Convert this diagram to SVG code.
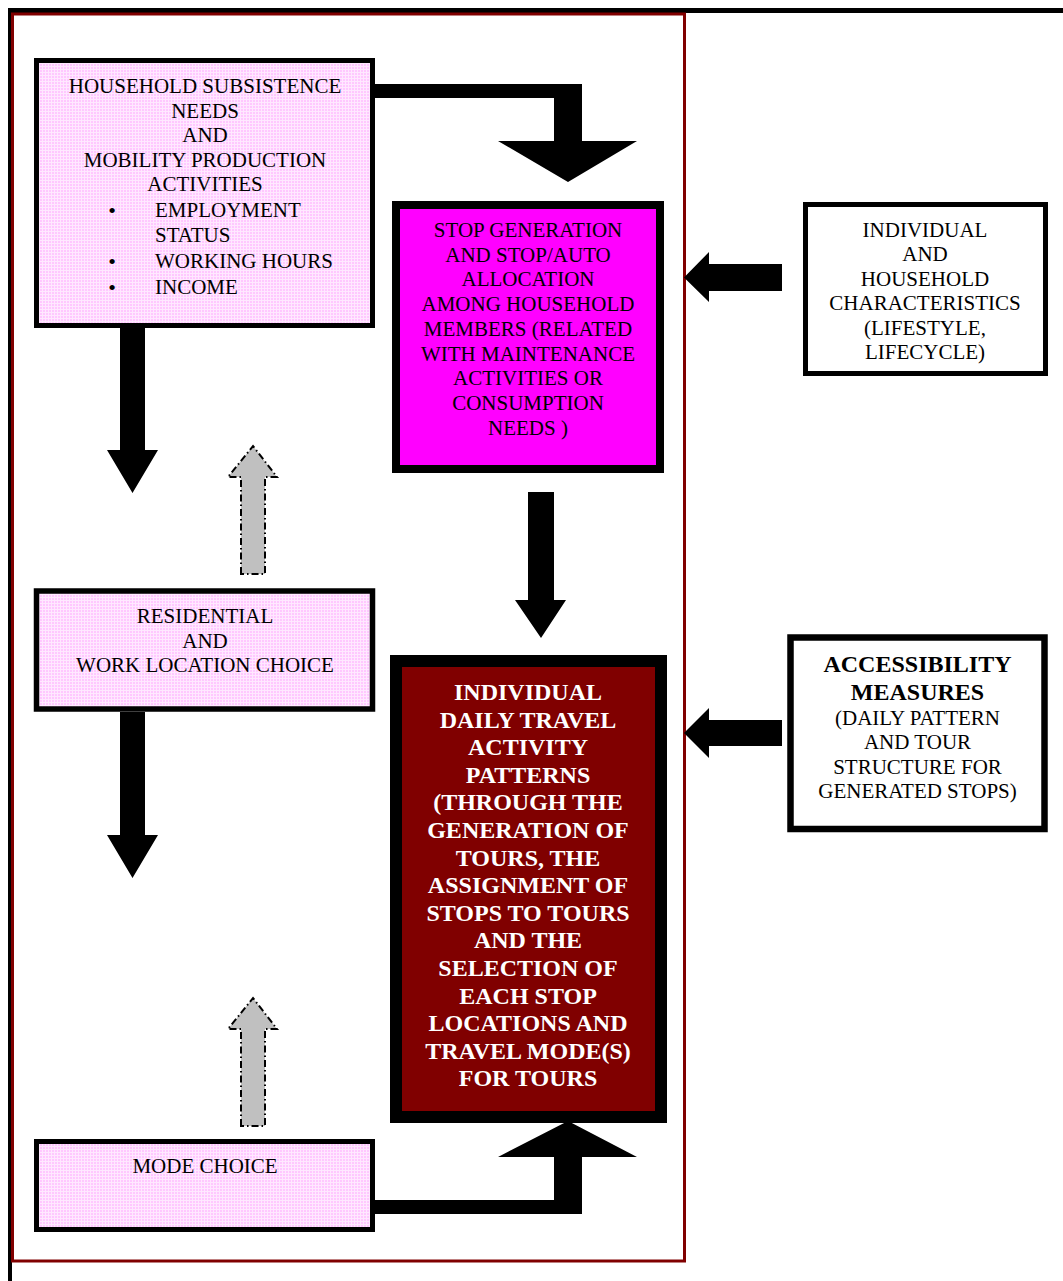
<svg xmlns="http://www.w3.org/2000/svg" width="1063" height="1281" viewBox="0 0 1063 1281">
  <defs>
    <!-- fine light grid used as the pink box fill -->
    <pattern id="pinkGrid" width="3" height="3" patternUnits="userSpaceOnUse">
      <rect width="3" height="3" fill="#FFC8FF"/>
      <path d="M0,0.5 H3 M0.5,0 V3" stroke="#FFE8FF" stroke-width="1"/>
    </pattern>
  </defs>
  <style>
    .t { font-family: "Liberation Serif", "Times New Roman", serif; font-size: 21px; fill: #000; text-anchor: middle; }
    .tl { text-anchor: start; }
    .bul { font-size: 22px; }
    .b { font-weight: bold; font-size: 24px; }
    .w { fill: #FFFFFF; }
    .pink { fill: url(#pinkGrid); stroke: #000; }
    .plain { fill: #FFFFFF; stroke: #000; }
    .arrow { fill: #000; stroke: none; }
    .ghost { fill: #C0C0C0; stroke: #000; stroke-width: 2; stroke-dasharray: 7 3 1.5 3; }
  </style>

  <rect x="0" y="0" width="1063" height="1281" fill="#FFFFFF"/>

  <!-- page frame -->
  <g id="frame">
    <rect x="8" y="8" width="1055" height="5" fill="#000"/>
    <rect x="8" y="8" width="4" height="1273" fill="#000"/>
    <rect x="12.5" y="14" width="672" height="1247" fill="none" stroke="#800000" stroke-width="3"/>
  </g>

  <!-- connectors -->
  <g id="connectors">
    <path class="arrow" d="M375,84 H582 V141 H637 L568,182 L498,141 H554 V98 H375 Z"/>
    <path class="arrow" d="M120,328 H145 V450 H158 L132.5,493 L107,450 H120 Z"/>
    <path class="arrow" d="M120,712 H145 V835 H158 L132.5,878 L107,835 H120 Z"/>
    <path class="arrow" d="M528,492 H554 V600 H566 L541,638 L515,600 H528 Z"/>
    <path class="arrow" d="M782,264 V291 H709 V302 L684,277.5 L709,252 V264 Z"/>
    <path class="arrow" d="M782,720 V746 H709 V758 L684,733 L709,708 V720 Z"/>
    <path class="arrow" d="M375,1200 H554 V1157 H498 L568,1121 L637,1157 H582 V1214 H375 Z"/>
    <path class="ghost" d="M241,574 V477 H228 L253,446 L277,477 H265 V574 Z"/>
    <path class="ghost" d="M241,1126 V1029 H228 L253,998 L277,1029 H265 V1126 Z"/>
  </g>

  <!-- household subsistence needs -->
  <g id="household-needs">
    <rect class="pink" x="36.5" y="60.5" width="336" height="265" stroke-width="5"/>
    <text class="t" x="205" y="93">HOUSEHOLD SUBSISTENCE</text>
    <text class="t" x="205" y="117.5">NEEDS</text>
    <text class="t" x="205" y="142">AND</text>
    <text class="t" x="205" y="166.5">MOBILITY PRODUCTION</text>
    <text class="t" x="205" y="191">ACTIVITIES</text>
    <text class="t bul" x="112" y="217.5">•</text>
    <text class="t tl" x="155" y="217">EMPLOYMENT</text>
    <text class="t tl" x="155" y="242">STATUS</text>
    <text class="t bul" x="112" y="268.5">•</text>
    <text class="t tl" x="155" y="268">WORKING HOURS</text>
    <text class="t bul" x="112" y="294.5">•</text>
    <text class="t tl" x="155" y="294">INCOME</text>
  </g>

  <!-- stop generation -->
  <g id="stop-generation">
    <rect x="396" y="205" width="264" height="264" fill="#FF00FF" stroke="#000" stroke-width="8"/>
    <text class="t" x="528" y="237">STOP GENERATION</text>
    <text class="t" x="528" y="261.7">AND STOP/AUTO</text>
    <text class="t" x="528" y="286.4">ALLOCATION</text>
    <text class="t" x="528" y="311.1">AMONG HOUSEHOLD</text>
    <text class="t" x="528" y="335.8">MEMBERS (RELATED</text>
    <text class="t" x="528" y="360.5">WITH MAINTENANCE</text>
    <text class="t" x="528" y="385.2">ACTIVITIES OR</text>
    <text class="t" x="528" y="409.9">CONSUMPTION</text>
    <text class="t" x="528" y="434.6">NEEDS )</text>
  </g>

  <!-- individual and household characteristics -->
  <g id="characteristics">
    <rect class="plain" x="805.5" y="204.5" width="240" height="169" stroke-width="5"/>
    <text class="t" x="925" y="237">INDIVIDUAL</text>
    <text class="t" x="925" y="261.4">AND</text>
    <text class="t" x="925" y="285.8">HOUSEHOLD</text>
    <text class="t" x="925" y="310.2">CHARACTERISTICS</text>
    <text class="t" x="925" y="334.6">(LIFESTYLE,</text>
    <text class="t" x="925" y="359">LIFECYCLE)</text>
  </g>

  <!-- residential and work location choice -->
  <g id="location-choice">
    <rect class="pink" x="36.5" y="591" width="336" height="118" stroke-width="5.5"/>
    <text class="t" x="205" y="623">RESIDENTIAL</text>
    <text class="t" x="205" y="647.5">AND</text>
    <text class="t" x="205" y="672">WORK LOCATION CHOICE</text>
  </g>

  <!-- individual daily travel activity patterns -->
  <g id="activity-patterns">
    <rect x="396" y="661" width="265" height="456" fill="#800000" stroke="#000" stroke-width="12"/>
    <text class="t b w" x="528" y="700">INDIVIDUAL</text>
    <text class="t b w" x="528" y="727.6">DAILY TRAVEL</text>
    <text class="t b w" x="528" y="755.2">ACTIVITY</text>
    <text class="t b w" x="528" y="782.8">PATTERNS</text>
    <text class="t b w" x="528" y="810.4">(THROUGH THE</text>
    <text class="t b w" x="528" y="838">GENERATION OF</text>
    <text class="t b w" x="528" y="865.6">TOURS, THE</text>
    <text class="t b w" x="528" y="893.2">ASSIGNMENT OF</text>
    <text class="t b w" x="528" y="920.8">STOPS TO TOURS</text>
    <text class="t b w" x="528" y="948.4">AND THE</text>
    <text class="t b w" x="528" y="976">SELECTION OF</text>
    <text class="t b w" x="528" y="1003.6">EACH STOP</text>
    <text class="t b w" x="528" y="1031.2">LOCATIONS AND</text>
    <text class="t b w" x="528" y="1058.8">TRAVEL MODE(S)</text>
    <text class="t b w" x="528" y="1086.4">FOR TOURS</text>
  </g>

  <!-- accessibility measures -->
  <g id="accessibility">
    <rect class="plain" x="790.5" y="637.5" width="254" height="191.5" stroke-width="6.5"/>
    <text class="t b" x="917.5" y="672">ACCESSIBILITY</text>
    <text class="t b" x="917.5" y="700">MEASURES</text>
    <text class="t" x="917.5" y="725">(DAILY PATTERN</text>
    <text class="t" x="917.5" y="749.4">AND TOUR</text>
    <text class="t" x="917.5" y="773.8">STRUCTURE FOR</text>
    <text class="t" x="917.5" y="798.2">GENERATED STOPS)</text>
  </g>

  <!-- mode choice -->
  <g id="mode-choice">
    <rect class="pink" x="36.5" y="1141.5" width="336" height="88" stroke-width="5"/>
    <text class="t" x="205" y="1173">MODE CHOICE</text>
  </g>
</svg>
